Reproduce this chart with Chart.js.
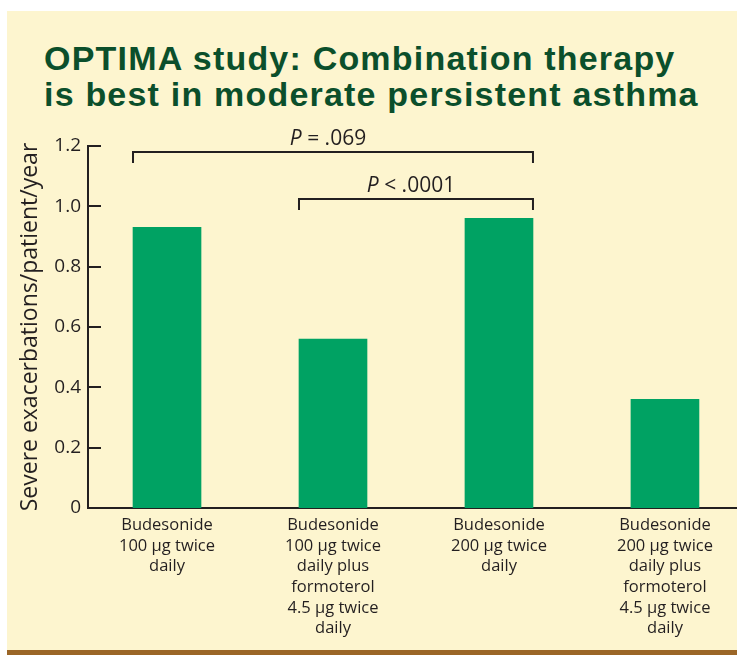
<!DOCTYPE html>
<html>
<head>
<meta charset="utf-8">
<script src="https://cdn.jsdelivr.net/npm/chart.js@4.4.0/dist/chart.umd.min.js"></script>
<style>
  html, body { margin: 0; padding: 0; background: #fff; overflow: hidden; }
  #wrap { position: relative; width: 737px; height: 655px; }
  #panel { position: absolute; left: 7px; top: 11px; right: 0; bottom: 0; background: #fdf5cf; }
  #rule { position: absolute; left: 7px; right: 0; bottom: 0; height: 5px; background: #9b6627; }
  #title {
    position: absolute; left: 44px; top: 40px;
    font-family: "Liberation Sans", sans-serif;
    font-weight: bold; font-size: 34px; line-height: 36px;
    letter-spacing: 1.2px; color: #0b4f2b;
  }
  #chartBox { position: absolute; left: 0; top: 0; width: 737px; height: 655px; }
</style>
</head>
<body>
<div id="wrap">
  <div id="panel"></div>
  <div id="rule"></div>
  <div id="title">OPTIMA study: Combination therapy<br>is best in moderate persistent asthma</div>
  <div id="chartBox"><canvas id="myChart"></canvas></div>
</div>
<script>
// Categories (one line per array item)
const categories = [
    ['Budesonide', '100 µg twice', 'daily'],
    ['Budesonide', '100 µg twice', 'daily plus', 'formoterol', '4.5 µg twice', 'daily'],
    ['Budesonide', '200 µg twice', 'daily'],
    ['Budesonide', '200 µg twice', 'daily plus', 'formoterol', '4.5 µg twice', 'daily']
];

// Severe exacerbations/patient/year
const exacerbations = [0.93, 0.56, 0.96, 0.36];

const yTicks = [0, 0.2, 0.4, 0.6, 0.8, 1.0, 1.2];

// Significance brackets: from bar, to bar, level, text
const bracketFrom = [0, 1];
const bracketTo = [2, 2];
const bracketLevel = [1.18, 1.023];
const bracketText = [' = .069', ' < .0001'];

const barColor = '#00a263';
const inkColor = '#231f20';
const font = '"Open Sans", sans-serif';

// draws the tick marks on the inner side of the y axis
const innerTicks = {
    id: 'innerTicks',
    afterDraw(chart) {
        const ctx = chart.ctx;
        const y = chart.scales.y;
        ctx.save();
        ctx.strokeStyle = inkColor;
        ctx.lineWidth = 2;
        yTicks.forEach(v => {
            if (v === 0) return;
            const py = Math.round(y.getPixelForValue(v));
            ctx.beginPath();
            ctx.moveTo(y.right, py);
            ctx.lineTo(y.right + 13, py);
            ctx.stroke();
        });
        ctx.restore();
    }
};

// significance brackets above the bars
const brackets = {
    id: 'brackets',
    afterDraw(chart) {
        const ctx = chart.ctx;
        const x = chart.scales.x;
        const y = chart.scales.y;
        const half = 34;
        ctx.save();
        ctx.strokeStyle = inkColor;
        ctx.fillStyle = inkColor;
        ctx.lineWidth = 2;
        bracketLevel.forEach((lvl, i) => {
            const x1 = x.getPixelForValue(bracketFrom[i]) - half;
            const x2 = x.getPixelForValue(bracketTo[i]) + half;
            const py = Math.round(y.getPixelForValue(lvl));
            ctx.beginPath();
            ctx.moveTo(x1, py + 11);
            ctx.lineTo(x1, py);
            ctx.lineTo(x2, py);
            ctx.lineTo(x2, py + 11);
            ctx.stroke();

            // label: italic P then the rest
            ctx.textBaseline = 'alphabetic';
            ctx.font = 'italic 21px ' + font;
            const wP = ctx.measureText('P').width;
            ctx.font = '21px ' + font;
            const wRest = ctx.measureText(bracketText[i]).width;
            const cx = (x1 + x2) / 2 - 5;
            const sx = cx - (wP + wRest) / 2;
            ctx.font = 'italic 21px ' + font;
            ctx.fillText('P', sx, py - 7);
            ctx.font = '21px ' + font;
            ctx.fillText(bracketText[i], sx + wP, py - 7);
        });
        ctx.restore();
    }
};

const data = {
    datasets: [{
        data: categories.map((c, i) => ({ x: i, y: exacerbations[i] })),
        backgroundColor: barColor,
        borderWidth: 0,
        barThickness: 68
    }]
};

const config = {
    type: 'bar',
    data: data,
    options: {
        responsive: true,
        maintainAspectRatio: false,
        animation: false,
        layout: {
            padding: { top: 146, left: 0, right: 0, bottom: 0 }
        },
        plugins: {
            legend: { display: false },
            title: { display: false },
            tooltip: { enabled: false }
        },
        scales: {
            x: {
                type: 'linear',
                offset: false,
                min: -0.476,
                max: 3.434,
                grid: { display: false, drawTicks: false },
                border: { display: true, color: inkColor, width: 2 },
                afterBuildTicks: (scale) => {
                    scale.ticks = categories.map((c, i) => ({ value: i }));
                },
                afterFit: (scale) => { scale.height = 147; },
                ticks: {
                    color: inkColor,
                    padding: 7,
                    maxRotation: 0,
                    autoSkip: false,
                    font: { family: font, size: 16.5, lineHeight: 1.25 },
                    callback: (v) => categories[v]
                }
            },
            y: {
                min: 0,
                max: 1.2,
                afterBuildTicks: (scale) => {
                    scale.ticks = yTicks.map(v => ({ value: v }));
                },
                afterFit: (scale) => { scale.width = 88; },
                grid: { display: false, drawTicks: false },
                border: { display: true, color: inkColor, width: 2 },
                ticks: {
                    color: inkColor,
                    padding: 7,
                    font: { family: font, size: 19 },
                    callback: (v) => v === 0 ? '0' : v.toFixed(1)
                },
                title: {
                    display: true,
                    text: 'Severe exacerbations/patient/year',
                    color: inkColor,
                    padding: { top: 17, bottom: 0 },
                    font: { family: font, size: 23 }
                }
            }
        }
    },
    plugins: [innerTicks, brackets]
};

const chart = new Chart(document.getElementById('myChart'), config);
</script>
</body>
</html>
